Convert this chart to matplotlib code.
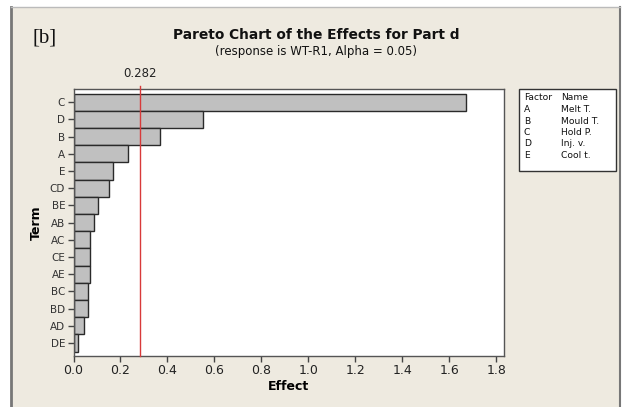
import numpy as np
import matplotlib
matplotlib.use("Agg")
import matplotlib.pyplot as plt
from matplotlib.patches import Rectangle
import matplotlib.transforms as mtrans

# Pareto effects (top to bottom)
terms = ["C", "D", "B", "A", "E", "CD", "BE", "AB", "AC", "CE", "AE", "BC", "BD", "AD", "DE"]
effects = [1.67, 0.553, 0.369, 0.230, 0.167, 0.152, 0.103, 0.086, 0.072, 0.072, 0.072, 0.063, 0.063, 0.046, 0.019]
ref_value = 0.282
xticks = [0.0, 0.2, 0.4, 0.6, 0.8, 1.0, 1.2, 1.4, 1.6, 1.8]

factors = ["A", "B", "C", "D", "E"]
factor_names = ["Melt T.", "Mould T.", "Hold P.", "Inj. v.", "Cool t."]

W, H = 624, 407
bg = "#EEEAE0"
plt.rcParams["font.family"] = "DejaVu Sans"

fig = plt.figure(figsize=(W / 100, H / 100), dpi=100, facecolor="white")

# beige panel with grey frame (left / top / right)
fig.patches.append(Rectangle((11 / W, 0), (620 - 11) / W, 1 - 7 / H, transform=fig.transFigure,
                             facecolor=bg, edgecolor="none", zorder=0))
fig.add_artist(plt.Line2D([11 / W, 11 / W], [0, 1 - 7 / H], color="#777777", lw=2, transform=fig.transFigure))
fig.add_artist(plt.Line2D([620 / W, 620 / W], [0, 1 - 7 / H], color="#777777", lw=1.5, transform=fig.transFigure))
fig.add_artist(plt.Line2D([11 / W, 620 / W], [1 - 7 / H, 1 - 7 / H], color="#bbbbbb", lw=1, transform=fig.transFigure))

left, right, top, bottom = 73.5, 504, 89.3, 356
ax = fig.add_axes([left / W, 1 - bottom / H, (right - left) / W, (bottom - top) / H])
ax.set_zorder(5)
ax.set_facecolor("white")

y = np.arange(len(terms))
ax.barh(y, effects, height=1.0, color="#C0C0C0", edgecolor="#2a2a2a", linewidth=1.0, zorder=2)
ax.set_ylim(len(terms) - 0.25, -0.75)
ax.set_xlim(0, 1.832)
ax.set_yticks(y)
ax.set_yticklabels(terms)
ax.set_xticks(xticks)
ax.set_xticklabels([f"{v:.1f}" for v in xticks])

trans = mtrans.blended_transform_factory(ax.transData, ax.transAxes)
ax.plot([ref_value, ref_value], [0, 1.013], color="#D83A3A", lw=1, transform=trans, clip_on=False, zorder=3)
ax.text(ref_value, 1.035, f"{ref_value}", transform=trans, ha="center", va="bottom", fontsize=8.5, color="#222222")

for s in ax.spines.values():
    s.set_color("#555555")
    s.set_linewidth(1)
ax.tick_params(axis="y", length=4, width=1, color="#444444", labelsize=7.5, labelcolor="#333333", pad=2)
ax.tick_params(axis="x", length=4, width=1, color="#444444", labelsize=9, labelcolor="#222222", pad=2)

ax.set_xlabel("Effect", fontsize=9, fontweight="bold", labelpad=2)
ax.set_ylabel("Term", fontsize=9, fontweight="bold", labelpad=5)

# titles
fig.text(316 / W, 1 - 35 / H, "Pareto Chart of the Effects for Part d", ha="center", va="center",
         fontsize=9.9, fontweight="bold", color="#111111")
fig.text(316 / W, 1 - 52 / H, "(response is WT-R1, Alpha = 0.05)", ha="center", va="center",
         fontsize=8.5, color="#111111")
fig.text(33 / W, 1 - 38 / H, "[b]", ha="left", va="center", fontsize=15, family="Liberation Serif", color="#111111")

# factor legend box
lx0, lx1, ly0, ly1 = 519, 616, 89.3, 171
fig.patches.append(Rectangle((lx0 / W, 1 - ly1 / H), (lx1 - lx0) / W, (ly1 - ly0) / H, transform=fig.transFigure,
                             facecolor="white", edgecolor="#333333", lw=1))
rows = [("Factor", "Name")] + list(zip(factors, factor_names))
for i, (f, n) in enumerate(rows):
    yy = 1 - (98 + i * 11.5) / H
    fig.text(524 / W, yy, f, fontsize=6.6, va="center", ha="left", color="#111111")
    fig.text(561 / W, yy, n, fontsize=6.6, va="center", ha="left", color="#111111")

fig.savefig("out.png", dpi=100, facecolor=fig.get_facecolor())
